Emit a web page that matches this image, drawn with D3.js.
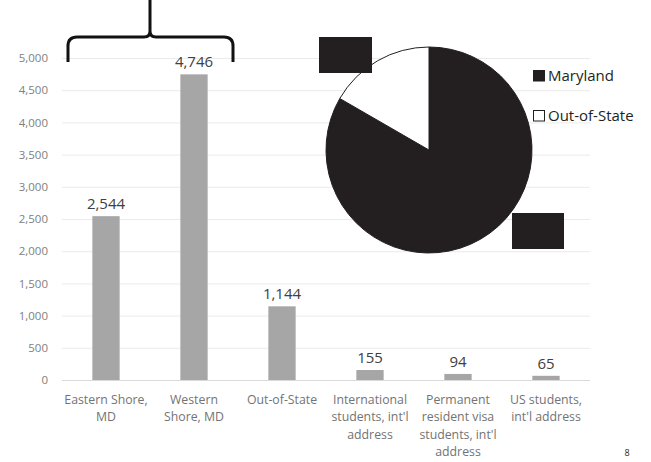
<!DOCTYPE html>
<html>
  <head>
    <meta charset="UTF-8">
    <title>Enrollment by origin</title>
    <script src="https://d3js.org/d3.v7.min.js"></script>
    <style>
      body { margin: 0; background: #fff; }
    </style>
  </head>
  <body>
    <svg width="651" height="462"></svg>

    <script>

const categories = [
  ["Eastern Shore,", "MD"],
  ["Western", "Shore, MD"],
  ["Out-of-State"],
  ["International", "students, int'l", "address"],
  ["Permanent", "resident visa", "students, int'l", "address"],
  ["US students,", "int'l address"]
];
const values = [2544, 4746, 1144, 155, 94, 65];
const yTicks = [0, 500, 1000, 1500, 2000, 2500, 3000, 3500, 4000, 4500, 5000];

const pieLabels = ["Maryland", "Out-of-State"];
const pieValues = [7290, 1458];

      const svg = d3.select("svg");
      const fmt = d3.format(",");

      const x = d3.scaleBand()
        .domain(d3.range(values.length))
        .range([62, 590])
        .paddingInner(0.69)
        .paddingOuter(0.345);

      const y = d3.scaleLinear()
        .domain([0, 5000])
        .range([380, 58]);

      // gridlines
      svg.append("g")
        .selectAll("line")
        .data(yTicks)
        .join("line")
        .attr("x1", 62)
        .attr("x2", 590)
        .attr("y1", d => y(d) + 0.5)
        .attr("y2", d => y(d) + 0.5)
        .attr("stroke", d => d === 0 ? "#d9d9d9" : "#ebebeb")
        .attr("stroke-width", 1);

      // y axis labels
      const yAxis = svg.append("g")
        .attr("transform", "translate(52,0)")
        .call(d3.axisLeft(y).tickValues(yTicks).tickFormat(fmt).tickSize(0).tickPadding(4));
      yAxis.select(".domain").remove();
      yAxis.selectAll("text")
        .attr("font-family", "Open Sans, sans-serif")
        .attr("font-size", 11.5)
        .attr("fill", "#808080");

      // bars
      svg.append("g")
        .selectAll("rect")
        .data(values)
        .join("rect")
        .attr("x", (d, i) => x(i))
        .attr("width", x.bandwidth())
        .attr("y", d => y(d))
        .attr("height", d => y(0) - y(d))
        .attr("fill", "#a6a6a6");

      svg.append("g")
        .selectAll("text")
        .data(values)
        .join("text")
        .attr("x", (d, i) => x(i) + x.bandwidth() / 2)
        .attr("y", d => y(d) - 7)
        .attr("text-anchor", "middle")
        .attr("font-family", "Open Sans, sans-serif")
        .attr("font-size", 15)
        .attr("fill", "#404040")
        .text(d => fmt(d));

      // category labels
      const cat = svg.append("g")
        .selectAll("text")
        .data(categories)
        .join("text")
        .attr("x", (d, i) => x(i) + x.bandwidth() / 2)
        .attr("y", 404)
        .attr("text-anchor", "middle")
        .attr("font-family", "Open Sans, sans-serif")
        .attr("font-size", 12.3)
        .attr("fill", "#737373");
      cat.selectAll("tspan")
        .data(d => d)
        .join("tspan")
        .attr("x", function() { return this.parentNode.getAttribute("x"); })
        .attr("dy", (d, i) => i === 0 ? 0 : 17.3)
        .text(d => d);

      // brace over the two Maryland bars
      const bl = 68, br = 233, bm = (bl + br) / 2 - 0.5;
      svg.append("path")
        .attr("d", `M${bl},62 L${bl},46 Q${bl},37 ${bl + 9},37 L${bm - 6},37 Q${bm},37 ${bm},31 L${bm},0
                    M${bm},31 Q${bm},37 ${bm + 6},37 L${br - 9},37 Q${br},37 ${br},46 L${br},62`)
        .attr("fill", "none")
        .attr("stroke", "#111")
        .attr("stroke-width", 3);

      // pie
      const pie = d3.pie().sort(null)(pieValues);
      const arc = d3.arc().innerRadius(0).outerRadius(103);
      svg.append("g")
        .attr("transform", "translate(429,150)")
        .selectAll("path")
        .data(pie)
        .join("path")
        .attr("d", arc)
        .attr("fill", (d, i) => i === 0 ? "#231f20" : "#fff")
        .attr("stroke", "#231f20")
        .attr("stroke-width", 1);

      // redacted label boxes
      svg.append("rect").attr("x", 319).attr("y", 37).attr("width", 53).attr("height", 36).attr("fill", "#231f20");
      svg.append("rect").attr("x", 512).attr("y", 213).attr("width", 52).attr("height", 36).attr("fill", "#231f20");

      // legend
      const legend = svg.append("g")
        .selectAll("g")
        .data(pieLabels)
        .join("g")
        .attr("transform", (d, i) => `translate(533,${70 + i * 40})`);
      legend.append("rect")
        .attr("x", 0.5).attr("y", 0.5)
        .attr("width", 11).attr("height", 10.5)
        .attr("fill", (d, i) => i === 0 ? "#231f20" : "#fff")
        .attr("stroke", "#231f20")
        .attr("stroke-width", 1);
      legend.append("text")
        .attr("x", 15)
        .attr("y", 11)
        .attr("font-family", "Open Sans, sans-serif")
        .attr("font-size", 15)
        .attr("fill", "#231f20")
        .text(d => d);

      svg.append("text")
        .attr("x", 627).attr("y", 456)
        .attr("text-anchor", "middle")
        .attr("font-family", "Open Sans, sans-serif")
        .attr("font-size", 9)
        .attr("fill", "#231f20")
        .text("8");

    </script>
  </body>
</html>
